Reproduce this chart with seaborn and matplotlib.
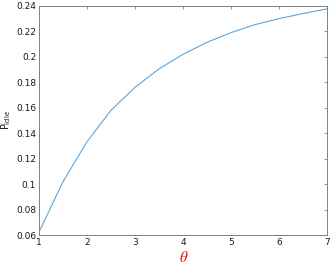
import matplotlib
matplotlib.use("Agg")
import matplotlib.pyplot as plt
import seaborn as sns
import pandas as pd

theta = [1, 1.5, 2, 2.5, 3, 3.5, 4, 4.5, 5, 5.5, 6, 6.5, 7]
p_idle = [0.0623, 0.102, 0.1333, 0.158, 0.176, 0.1905, 0.202, 0.2114, 0.219, 0.2253, 0.230, 0.234, 0.2376]
xticks = [1, 2, 3, 4, 5, 6, 7]
yticks = [0.06, 0.08, 0.1, 0.12, 0.14, 0.16, 0.18, 0.2, 0.22, 0.24]
ytick_labels = ["0.06", "0.08", "0.1", "0.12", "0.14", "0.16", "0.18", "0.2", "0.22", "0.24"]

sns.set_style("white")
plt.rcParams['font.family'] = ['DejaVu Sans']
plt.rcParams['mathtext.fontset'] = 'dejavusans'

df = pd.DataFrame({"theta": theta, "p": p_idle})
fig = plt.figure(figsize=(3.32, 2.68), dpi=100)
ax = fig.add_axes([0.1175, 0.123, 0.8675, 0.855])
sns.lineplot(data=df, x="theta", y="p", ax=ax, color="#5aa6e0", linewidth=0.8)
ax.set_xlim(1, 7)
ax.set_ylim(0.06, 0.24)
ax.set_xticks(xticks)
ax.set_xticklabels([str(t) for t in xticks])
ax.set_yticks(yticks)
ax.set_yticklabels(ytick_labels)
for s in ax.spines.values():
    s.set_color("#808080")
    s.set_linewidth(0.7)
ax.tick_params(direction="in", length=2.5, width=0.6, color="#808080", labelsize=6.5,
               top=True, right=True, pad=2, labelcolor="#1a1a1a")
ax.set_xlabel("\u03b8", color="red", fontsize=11, labelpad=3,
              fontfamily="STIXGeneral", fontstyle="italic")
ax.set_ylabel(r"P$_{\mathregular{Idle}}$", fontsize=7, labelpad=2, color="#1a1a1a")
fig.savefig("out.png", dpi=100)
